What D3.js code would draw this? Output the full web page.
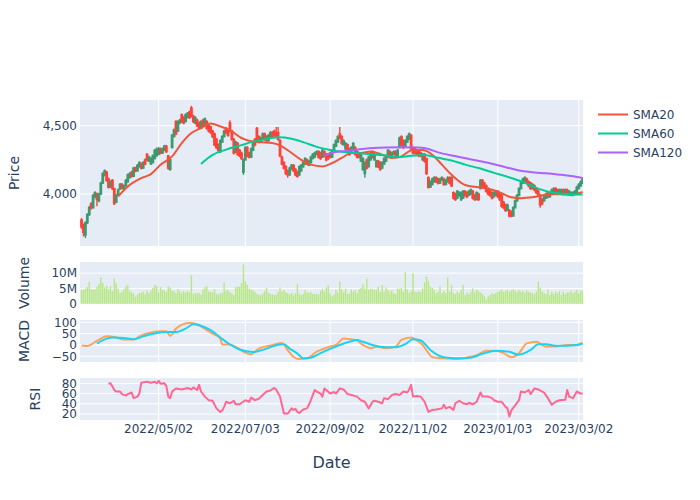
<!DOCTYPE html>
<html><head><meta charset="utf-8">
<script src="https://cdn.jsdelivr.net/npm/d3@7"></script>
<style>body{margin:0;background:#fff;}svg{display:block;}</style>
</head><body><svg id="c" width="700" height="500"></svg>
<script>
// ---------------- DATA ----------------
const firstDay = "2022-03-07", lastDay = "2023-03-06";   // trading days = weekdays
const open = [3810,3770,3700,3790,3850,3930,3900,3980,4000,3950,
4000,4080,4140,4160,4110,4050,4100,4040,3940,3990,
4040,4070,4040,4060,4090,4120,4160,4130,4190,4170,
4200,4220,4190,4250,4290,4240,4220,4230,4260,4280,
4290,4330,4300,4320,4350,4280,4180,4340,4420,4530,
4460,4520,4580,4560,4530,4560,4600,4630,4570,4520,
4540,4520,4480,4540,4500,4530,4500,4490,4460,4440,
4400,4360,4310,4380,4420,4480,4470,4520,4460,4400,
4310,4370,4320,4300,4160,4250,4340,4300,4270,4320,
4400,4480,4420,4380,4400,4440,4420,4390,4420,4450,
4460,4450,4450,4390,4270,4230,4200,4170,4140,4180,
4210,4180,4160,4140,4170,4200,4220,4250,4210,4230,
4260,4270,4290,4310,4300,4270,4310,4290,4290,4300,
4270,4320,4350,4380,4440,4420,4360,4330,4360,4330,
4300,4330,4340,4310,4300,4240,4180,4150,4250,4200,
4250,4310,4250,4200,4240,4230,4190,4220,4240,4270,
4310,4280,4290,4310,4280,4340,4420,4390,4350,4380,
4400,4430,4340,4330,4320,4310,4300,4250,4290,4260,
4120,4050,4070,4090,4120,4110,4080,4100,4110,4070,
4090,4120,4120,4010,4000,3970,3990,3960,3970,4020,
4010,3990,4000,4020,3990,3960,4000,4040,4100,4080,
4060,4040,4020,4010,3980,3990,4020,4000,3990,3940,
3920,3880,3880,3870,3840,3900,3950,3990,4040,4080,
4090,4110,4090,4080,4040,4060,4040,4020,3990,3960,
3950,3970,4010,3980,4000,4010,4040,4030,4000,4010,
4030,4000,4030,4000,3990,3990,4000,4010,4040,4060,
4080];
const high = [3825,3785,3800,3860,3915,3940,4000,4020,4010,4010,
4090,4160,4180,4170,4120,4100,4110,4045,4000,4040,
4080,4080,4070,4110,4150,4160,4170,4200,4200,4220,
4240,4230,4240,4260,4300,4280,4270,4290,4330,4340,
4345,4340,4340,4360,4360,4285,4260,4440,4480,4540,
4540,4550,4590,4570,4590,4600,4610,4645,4580,4570,
4550,4530,4540,4550,4560,4540,4510,4500,4470,4450,
4410,4370,4400,4430,4470,4490,4480,4540,4470,4410,
4390,4380,4330,4310,4260,4350,4350,4310,4340,4380,
4410,4490,4430,4420,4450,4450,4430,4440,4460,4460,
4470,4490,4490,4400,4280,4240,4210,4180,4200,4220,
4220,4190,4170,4210,4220,4240,4270,4260,4250,4280,
4300,4310,4320,4320,4310,4330,4320,4300,4300,4310,
4330,4370,4400,4430,4490,4430,4400,4380,4370,4340,
4350,4380,4350,4320,4310,4300,4270,4240,4260,4280,
4310,4320,4300,4250,4250,4240,4240,4270,4290,4330,
4320,4310,4320,4320,4330,4420,4430,4400,4400,4430,
4450,4440,4350,4340,4330,4320,4310,4300,4300,4265,
4130,4100,4120,4130,4130,4120,4120,4130,4120,4110,
4130,4130,4130,4020,4010,4030,4020,4020,4030,4030,
4020,4030,4040,4030,4000,4020,4010,4110,4110,4090,
4070,4050,4030,4020,4020,4030,4030,4010,4000,3950,
3930,3930,3890,3880,3910,3960,4000,4050,4100,4120,
4130,4120,4100,4090,4080,4070,4050,4030,4000,3970,
4000,4010,4020,4020,4040,4050,4050,4040,4040,4040,
4040,4040,4040,4030,4020,4020,4030,4060,4080,4100,
4120];
const low = [3745,3690,3678,3780,3840,3885,3895,3970,3910,3940,
3995,4075,4130,4090,4040,4045,4030,3920,3935,3985,
4030,4035,4030,4055,4085,4115,4120,4125,4160,4165,
4195,4180,4185,4210,4240,4235,4215,4225,4255,4275,
4285,4290,4295,4315,4300,4178,4170,4335,4415,4430,
4455,4510,4520,4510,4525,4555,4550,4560,4520,4510,
4490,4470,4475,4490,4495,4470,4450,4440,4410,4350,
4330,4305,4300,4375,4415,4440,4420,4450,4390,4290,
4300,4280,4270,4250,4140,4245,4270,4260,4265,4315,
4350,4390,4370,4375,4395,4390,4380,4385,4415,4410,
4420,4410,4390,4270,4210,4180,4140,4120,4135,4175,
4160,4130,4120,4135,4165,4195,4215,4210,4205,4225,
4255,4265,4285,4260,4250,4265,4270,4240,4250,4260,
4265,4315,4345,4375,4400,4360,4355,4325,4300,4280,
4295,4325,4280,4260,4260,4235,4170,4120,4180,4195,
4245,4260,4245,4195,4190,4170,4185,4215,4235,4265,
4270,4275,4285,4260,4275,4335,4350,4330,4345,4375,
4395,4320,4290,4290,4280,4270,4270,4245,4230,4140,
4040,4045,4065,4085,4080,4070,4075,4095,4060,4065,
4085,4070,4050,3960,3950,3965,3980,3950,3965,3980,
3970,3985,3995,3960,3950,3955,3950,4035,4050,4040,
4010,3990,3980,3960,3975,3985,3970,3950,3900,3890,
3870,3875,3830,3830,3835,3895,3945,3985,4035,4075,
4085,4070,4050,4030,4035,4020,4000,3980,3900,3920,
3945,3965,3970,3975,3995,4005,4000,3990,3995,4005,
3990,3995,4000,3995,3985,3985,3995,4005,4035,4055,
4075];
const close = [3760,3720,3790,3850,3900,3900,3990,4010,3960,4000,
4080,4150,4170,4100,4050,4090,4040,3930,3990,4030,
4070,4040,4060,4100,4140,4150,4130,4190,4170,4210,
4230,4190,4230,4220,4250,4270,4260,4280,4320,4330,
4330,4300,4330,4350,4310,4190,4250,4430,4470,4440,
4530,4540,4530,4520,4580,4590,4560,4570,4530,4560,
4500,4480,4530,4500,4550,4480,4460,4450,4420,4360,
4340,4320,4390,4420,4460,4450,4430,4460,4400,4300,
4380,4290,4280,4260,4250,4340,4280,4270,4330,4370,
4360,4400,4380,4410,4440,4400,4390,4430,4450,4420,
4430,4420,4400,4280,4220,4190,4150,4140,4190,4210,
4170,4140,4130,4200,4210,4230,4260,4220,4240,4270,
4290,4300,4310,4270,4260,4320,4280,4250,4260,4270,
4320,4360,4390,4420,4410,4370,4390,4370,4310,4290,
4340,4370,4290,4270,4270,4290,4260,4230,4190,4270,
4300,4270,4290,4240,4200,4180,4230,4260,4280,4320,
4280,4300,4310,4270,4320,4410,4360,4340,4390,4420,
4440,4330,4300,4300,4290,4280,4280,4290,4240,4150,
4050,4090,4110,4120,4090,4080,4110,4120,4070,4100,
4120,4080,4060,3970,3960,4020,4010,4010,4020,3990,
3980,4020,4030,3970,3960,4010,3960,4100,4060,4050,
4020,4000,3990,3970,4010,4020,3980,3960,3910,3900,
3880,3920,3840,3840,3900,3950,3990,4040,4090,4110,
4120,4080,4060,4040,4070,4030,4010,3990,3920,3930,
3990,4000,3980,4010,4030,4040,4010,4000,4030,4030,
4000,4030,4010,4020,4010,4010,4020,4050,4070,4090,
4110];
const volumeM = [4.5,4.6,5.0,5.5,7.2,4.8,4.6,4.8,5.6,6.5,
8.6,6.8,5.3,6.0,4.8,5.7,4.2,8.3,6.7,5.0,
3.5,4.0,4.8,5.8,6.2,4.4,3.8,3.4,2.4,3.0,
3.6,3.5,4.0,3.2,4.3,3.6,4.3,5.2,6.3,5.8,
3.8,5.5,4.5,4.4,3.9,5.7,5.3,4.3,4.2,3.5,
4.9,4.1,3.5,4.2,3.7,4.2,3.8,9.3,3.3,3.5,
3.4,3.6,3.0,4.8,5.5,5.7,4.1,3.9,3.8,4.8,
3.3,3.1,3.4,3.6,7.0,4.3,4.6,3.8,3.4,3.0,
5.5,5.6,5.6,6.8,12.8,7.3,6.2,5.0,4.6,4.4,
3.9,3.2,3.0,2.9,3.4,4.2,5.3,3.6,3.2,3.1,
2.9,3.0,3.9,5.3,4.0,4.5,3.8,3.4,3.1,3.6,
2.8,3.5,6.5,3.3,2.9,3.2,4.5,3.8,3.6,3.9,
3.3,3.2,3.4,3.0,4.2,5.0,4.0,5.3,6.0,3.4,
2.5,3.0,4.5,3.7,7.3,4.8,3.8,5.0,3.2,3.4,
4.7,3.9,4.5,3.5,4.8,5.2,6.4,5.0,8.2,4.6,
5.0,4.9,4.6,4.7,5.6,3.9,6.2,4.0,5.4,4.6,
4.0,4.4,3.5,3.2,5.1,4.9,5.2,4.0,10.3,4.8,
3.6,4.3,10.0,4.0,3.8,4.2,3.9,5.0,7.0,8.9,
7.4,5.6,5.2,4.5,3.5,4.0,5.7,3.6,4.2,3.5,
8.6,4.0,6.2,3.5,3.2,4.0,3.5,4.5,6.2,2.9,
3.7,3.2,4.0,5.1,3.7,4.6,4.2,3.7,3.2,2.6,
1.4,2.4,2.9,3.5,3.2,3.7,3.9,4.2,4.6,4.0,
4.2,4.5,4.0,4.4,4.8,4.3,4.0,4.5,4.0,4.2,
3.6,4.4,4.0,3.7,3.5,3.2,4.0,7.3,5.3,4.0,
3.5,3.2,4.5,2.9,4.0,3.2,4.0,3.5,4.2,2.9,
4.0,3.2,3.7,3.7,4.3,3.5,4.0,4.6,3.5,4.3,
4.3];

const sma20 = [["2022-04-01",3983],["2022-04-08",4056],["2022-04-19",4117],["2022-04-26",4146],["2022-05-03",4215],["2022-05-11",4276],["2022-05-18",4373],["2022-05-25",4446],["2022-06-01",4483],["2022-06-08",4517],["2022-06-15",4495],["2022-06-23",4459],["2022-06-30",4410],["2022-07-04",4398],["2022-07-13",4380],["2022-07-22",4373],["2022-07-29",4349],["2022-08-05",4300],["2022-08-12",4250],["2022-08-19",4215],["2022-08-29",4202],["2022-09-05",4227],["2022-09-12",4264],["2022-09-19",4300],["2022-09-26",4300],["2022-10-03",4312],["2022-10-11",4288],["2022-10-18",4264],["2022-10-25",4276],["2022-11-01",4318],["2022-11-09",4322],["2022-11-16",4288],["2022-11-23",4215],["2022-11-30",4141],["2022-12-09",4066],["2022-12-20",4049],["2022-12-29",4032],["2023-01-05",4007],["2023-01-12",3976],["2023-01-19",3970],["2023-01-27",3976],["2023-02-07",3995],["2023-02-15",4000],["2023-02-24",3995],["2023-03-06",4015]];
const sma60 = [["2022-06-01",4220],["2022-06-09",4286],["2022-06-20",4325],["2022-06-30",4358],["2022-07-07",4380],["2022-07-15",4398],["2022-07-27",4415],["2022-08-05",4405],["2022-08-15",4380],["2022-08-24",4345],["2022-09-02",4322],["2022-09-13",4307],["2022-09-22",4300],["2022-10-03",4292],["2022-10-12",4283],["2022-10-21",4270],["2022-11-01",4280],["2022-11-10",4285],["2022-11-21",4265],["2022-11-30",4245],["2022-12-09",4215],["2022-12-20",4190],["2022-12-30",4155],["2023-01-12",4117],["2023-01-23",4082],["2023-02-01",4040],["2023-02-10",4012],["2023-02-21",4000],["2023-03-02",3996],["2023-03-06",3997]];
const sma120 = [["2022-08-30",4280],["2022-09-06",4305],["2022-09-14",4315],["2022-09-28",4332],["2022-10-13",4340],["2022-10-25",4342],["2022-11-04",4340],["2022-11-11",4333],["2022-11-21",4305],["2022-12-01",4280],["2022-12-12",4260],["2022-12-21",4240],["2022-12-30",4218],["2023-01-10",4193],["2023-01-19",4170],["2023-01-30",4158],["2023-02-07",4152],["2023-02-16",4142],["2023-02-24",4132],["2023-03-06",4118]];

const macd = [["2022-03-07",-2],["2022-03-10",-4],["2022-03-17",18],["2022-03-24",38],["2022-03-30",35],["2022-04-06",24],["2022-04-13",24],["2022-04-18",38],["2022-04-25",53],["2022-05-03",60],["2022-05-06",60],["2022-05-10",40],["2022-05-13",72],["2022-05-24",97],["2022-05-30",91],["2022-06-06",65],["2022-06-09",50],["2022-06-15",28],["2022-06-16",2],["2022-06-22",2],["2022-06-27",-9],["2022-07-05",-38],["2022-07-07",-41],["2022-07-13",-16],["2022-07-22",-1],["2022-07-29",9],["2022-08-03",-23],["2022-08-08",-53],["2022-08-11",-62],["2022-08-17",-60],["2022-08-24",-29],["2022-08-29",-19],["2022-09-02",-7],["2022-09-07",0],["2022-09-13",29],["2022-09-16",26],["2022-09-22",19],["2022-09-27",0],["2022-10-03",-14],["2022-10-06",-8],["2022-10-13",-14],["2022-10-20",-7],["2022-10-25",22],["2022-11-01",33],["2022-11-04",20],["2022-11-09",0],["2022-11-14",-36],["2022-11-16",-54],["2022-11-24",-59],["2022-12-05",-62],["2022-12-12",-55],["2022-12-19",-45],["2022-12-26",-25],["2023-01-02",-26],["2023-01-06",-36],["2023-01-12",-54],["2023-01-18",-36],["2023-01-24",7],["2023-01-31",14],["2023-02-07",-7],["2023-02-14",-7],["2023-02-22",0],["2023-03-01",0],["2023-03-06",10]];
const signal = [["2022-03-17",6],["2022-03-24",28],["2022-03-30",33],["2022-04-06",31],["2022-04-13",25],["2022-04-20",38],["2022-04-29",53],["2022-05-06",57],["2022-05-13",57],["2022-05-20",72],["2022-05-26",91],["2022-05-31",87],["2022-06-08",65],["2022-06-15",33],["2022-06-22",2],["2022-06-29",-20],["2022-07-08",-31],["2022-07-19",-16],["2022-07-26",-1],["2022-08-01",3],["2022-08-04",-16],["2022-08-10",-38],["2022-08-15",-58],["2022-08-19",-56],["2022-08-26",-36],["2022-09-02",-17],["2022-09-09",0],["2022-09-16",14],["2022-09-22",22],["2022-09-27",14],["2022-10-04",0],["2022-10-13",-10],["2022-10-20",-10],["2022-10-27",4],["2022-11-02",25],["2022-11-08",20],["2022-11-15",-22],["2022-11-24",-54],["2022-12-05",-59],["2022-12-14",-56],["2022-12-22",-39],["2023-01-02",-25],["2023-01-11",-30],["2023-01-18",-43],["2023-01-26",-22],["2023-02-01",3],["2023-02-07",3],["2023-02-14",-3],["2023-02-22",-3],["2023-03-01",0],["2023-03-06",4]];
const rsi = [["2022-03-25",79],["2022-03-28",80],["2022-03-29",74],["2022-03-30",67],["2022-03-31",64],["2022-04-04",64],["2022-04-05",59],["2022-04-07",56],["2022-04-08",59],["2022-04-12",62],["2022-04-13",51],["2022-04-15",54],["2022-04-18",60],["2022-04-19",81],["2022-04-22",83],["2022-04-26",81],["2022-04-28",83],["2022-04-29",80],["2022-05-02",85],["2022-05-03",79],["2022-05-05",80],["2022-05-06",75],["2022-05-09",54],["2022-05-10",51],["2022-05-11",64],["2022-05-13",70],["2022-05-18",68],["2022-05-23",71],["2022-05-25",68],["2022-05-26",72],["2022-05-30",67],["2022-05-31",77],["2022-06-01",64],["2022-06-03",54],["2022-06-07",47],["2022-06-09",46],["2022-06-13",31],["2022-06-15",24],["2022-06-16",27],["2022-06-17",34],["2022-06-20",44],["2022-06-22",41],["2022-06-24",46],["2022-06-27",39],["2022-06-29",39],["2022-07-04",47],["2022-07-06",44],["2022-07-07",52],["2022-07-11",47],["2022-07-13",50],["2022-07-15",57],["2022-07-19",64],["2022-07-21",66],["2022-07-25",71],["2022-07-26",68],["2022-07-28",54],["2022-08-01",21],["2022-08-03",21],["2022-08-05",31],["2022-08-08",28],["2022-08-09",30],["2022-08-10",24],["2022-08-11",22],["2022-08-15",29],["2022-08-17",31],["2022-08-18",38],["2022-08-19",47],["2022-08-23",67],["2022-08-24",64],["2022-08-26",60],["2022-08-29",54],["2022-08-30",70],["2022-08-31",67],["2022-09-02",60],["2022-09-06",63],["2022-09-07",60],["2022-09-09",70],["2022-09-13",68],["2022-09-15",59],["2022-09-19",57],["2022-09-22",54],["2022-09-26",47],["2022-09-28",44],["2022-09-30",31],["2022-10-04",44],["2022-10-05",46],["2022-10-07",44],["2022-10-11",41],["2022-10-12",51],["2022-10-14",49],["2022-10-18",57],["2022-10-20",59],["2022-10-24",57],["2022-10-26",64],["2022-10-28",62],["2022-10-31",68],["2022-11-01",77],["2022-11-02",54],["2022-11-04",55],["2022-11-08",54],["2022-11-10",44],["2022-11-14",24],["2022-11-16",28],["2022-11-18",29],["2022-11-23",31],["2022-11-24",38],["2022-11-25",31],["2022-11-29",34],["2022-12-01",28],["2022-12-02",41],["2022-12-06",46],["2022-12-08",41],["2022-12-12",39],["2022-12-13",42],["2022-12-15",39],["2022-12-19",44],["2022-12-21",62],["2022-12-22",54],["2022-12-27",54],["2022-12-29",51],["2022-12-30",47],["2023-01-03",44],["2023-01-05",44],["2023-01-09",34],["2023-01-10",31],["2023-01-11",15],["2023-01-12",27],["2023-01-16",37],["2023-01-18",47],["2023-01-19",64],["2023-01-23",62],["2023-01-25",67],["2023-01-26",59],["2023-01-30",70],["2023-02-01",68],["2023-02-06",62],["2023-02-08",51],["2023-02-10",38],["2023-02-14",44],["2023-02-16",47],["2023-02-21",48],["2023-02-22",67],["2023-02-23",54],["2023-02-27",51],["2023-03-01",64],["2023-03-03",60],["2023-03-06",60]];

const xTickLabels = ["2022/05/02","2022/07/03","2022/09/02","2022/11/02","2023/01/03","2023/03/02"];
const priceTicks = [4000, 4500];
const volumeTicks = [0, 5e6, 10e6];
const macdTicks = [-50, 0, 50, 100];
const rsiTicks = [20, 40, 60, 80];
const legendNames = ["SMA20", "SMA60", "SMA120"];

// ---------------- DRAW ----------------
const FONT = '"DejaVu Sans", Verdana, sans-serif';
const TXT = "#2a3f5f", BG = "#E5ECF6";
const UP = "#3D9970", DOWN = "#FF4136";
const C20 = "#EF553B", C60 = "#00CC96", C120 = "#AB63FA";
const CMACD = "#FFA15A", CSIG = "#19D3F3", CRSI = "#FF6692", CVOL = "#B6E880";

const svg = d3.select("#c").style("font-family", FONT);
const parse = d3.utcParse("%Y-%m-%d");
const days = [];
for (let d = parse(firstDay); d <= parse(lastDay); d = d3.utcDay.offset(d, 1)) {
  const w = d.getUTCDay(); if (w > 0 && w < 6) days.push(d);
}
const dayNums = days.map(d => +d);
const idx = s => d3.bisectLeft(dayNums, +parse(s.replace(/\//g, "-")));

const L = 80, R = 583;
const x = d3.scaleLinear().domain([-0.8, days.length - 0.8]).range([L, R]);

const panels = {
  price: {top: 100, bot: 246, y: d3.scaleLinear().domain([3620, 4688]).range([246, 100])},
  vol:   {top: 262, bot: 304, y: d3.scaleLinear().domain([0, 13.6e6]).range([304, 262])},
  macd:  {top: 320, bot: 362, y: d3.scaleLinear().domain([-75, 110]).range([362, 320])},
  rsi:   {top: 378, bot: 420, y: d3.scaleLinear().domain([8.3, 90.4]).range([420, 378])}
};
const defs = svg.append("defs");
Object.entries(panels).forEach(([k, p]) => {
  svg.append("rect").attr("x", L).attr("y", p.top).attr("width", R - L).attr("height", p.bot - p.top).attr("fill", BG);
  defs.append("clipPath").attr("id", "clip-" + k).append("rect")
    .attr("x", L).attr("y", p.top).attr("width", R - L).attr("height", p.bot - p.top);
});

const xTickPos = xTickLabels.map(t => x(idx(t)));
function grid(p, ticks, fmt, vertical, zero) {
  const g = svg.append("g");
  if (vertical) xTickPos.forEach(px => g.append("line").attr("x1", px).attr("x2", px)
      .attr("y1", p.top).attr("y2", p.bot).attr("stroke", "#fff").attr("stroke-width", 1));
  ticks.forEach(t => {
    const yy = p.y(t);
    g.append("line").attr("x1", L).attr("x2", R).attr("y1", yy).attr("y2", yy)
      .attr("stroke", "#fff").attr("stroke-width", (zero && t === 0) ? 2 : 1);
    svg.append("text").attr("x", L - 3).attr("y", yy).attr("dy", "0.36em")
      .attr("text-anchor", "end").attr("font-size", 12).attr("fill", TXT).text(fmt(t));
  });
}
const minus = s => String(s).replace("-", "\u2212");
grid(panels.price, priceTicks, d3.format(","), true, false);
grid(panels.vol, volumeTicks, v => v === 0 ? "0" : (v / 1e6) + "M", false, true);
grid(panels.macd, macdTicks, v => minus(v), true, true);
grid(panels.rsi, rsiTicks, v => String(v), true, false);

// Candles
const pY = panels.price.y;
const cg = svg.append("g").attr("clip-path", "url(#clip-price)");
days.forEach((d, i) => {
  const col = close[i] >= open[i] ? UP : DOWN;
  const cx = x(i);
  cg.append("line").attr("x1", cx).attr("x2", cx).attr("y1", pY(high[i])).attr("y2", pY(low[i]))
    .attr("stroke", col).attr("stroke-width", 1.4);
  const y1 = pY(Math.max(open[i], close[i])), y2 = pY(Math.min(open[i], close[i]));
  cg.append("rect").attr("x", cx - 0.7).attr("width", 1.4).attr("y", y1).attr("height", Math.max(0.5, y2 - y1))
    .attr("fill", col).attr("stroke", col).attr("stroke-width", 1.4);
});

// SMA lines
const smaLine = d3.line().x(d => x(idx(d[0]))).y(d => pY(d[1])).curve(d3.curveMonotoneX);
[[sma20, C20], [sma60, C60], [sma120, C120]].forEach(([s, c]) =>
  cg.append("path").datum(s).attr("d", smaLine).attr("fill", "none").attr("stroke", c).attr("stroke-width", 2));

// Volume
const vY = panels.vol.y;
const vg = svg.append("g").attr("clip-path", "url(#clip-vol)");
volumeM.forEach((v, i) => {
  vg.append("rect").attr("x", x(i) - 0.7).attr("width", 1.4)
    .attr("y", vY(v * 1e6)).attr("height", vY(0) - vY(v * 1e6)).attr("fill", CVOL);
});

// MACD
const mY = panels.macd.y;
const mg = svg.append("g").attr("clip-path", "url(#clip-macd)");
const mLine = d3.line().x(d => x(idx(d[0]))).y(d => mY(d[1])).curve(d3.curveMonotoneX);
mg.append("path").datum(macd).attr("d", mLine).attr("fill", "none").attr("stroke", CMACD).attr("stroke-width", 2);
mg.append("path").datum(signal).attr("d", mLine).attr("fill", "none").attr("stroke", CSIG).attr("stroke-width", 2);

// RSI
const rY = panels.rsi.y;
const rg = svg.append("g").attr("clip-path", "url(#clip-rsi)");
rg.append("path").datum(rsi).attr("d", d3.line().x(d => x(idx(d[0]))).y(d => rY(d[1])))
  .attr("fill", "none").attr("stroke", CRSI).attr("stroke-width", 2).attr("stroke-linejoin", "round");

// X tick labels
xTickLabels.forEach((t, k) => svg.append("text").attr("x", xTickPos[k]).attr("y", 432.5)
  .attr("text-anchor", "middle").attr("font-size", 12).attr("fill", TXT).text(t));

// Axis titles
svg.append("text").attr("x", (L + R) / 2).attr("y", 468).attr("text-anchor", "middle")
  .attr("font-size", 16).attr("fill", TXT).text("Date");
[["Price", 14, 173], ["Volume", 24, 283], ["MACD", 24, 341], ["RSI", 35, 399]].forEach(([t, tx, ty]) =>
  svg.append("text").attr("transform", `translate(${tx},${ty}) rotate(-90)`).attr("dy", "0.36em")
    .attr("text-anchor", "middle").attr("font-size", 14).attr("fill", TXT).text(t));

// Legend
[C20, C60, C120].forEach((c, k) => {
  const ly = 114.5 + k * 19;
  svg.append("line").attr("x1", 598).attr("x2", 628).attr("y1", ly).attr("y2", ly).attr("stroke", c).attr("stroke-width", 2);
  svg.append("text").attr("x", 633).attr("y", ly).attr("dy", "0.36em").attr("font-size", 12).attr("fill", TXT).text(legendNames[k]);
});
</script></body></html>
